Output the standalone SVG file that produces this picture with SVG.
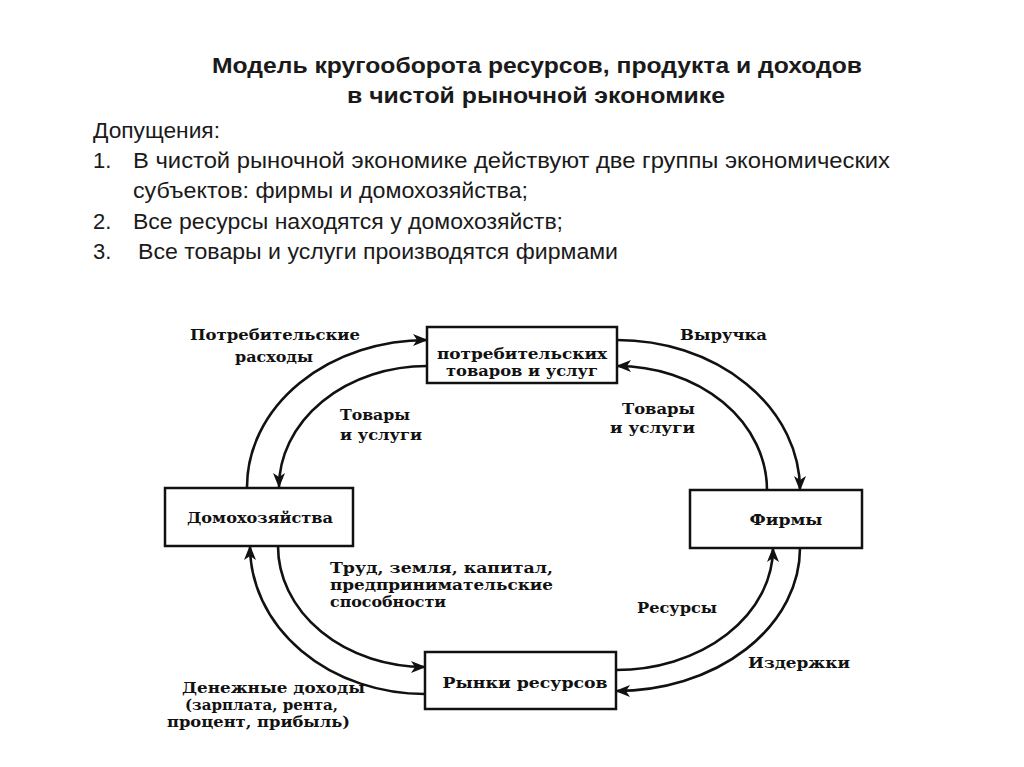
<svg xmlns="http://www.w3.org/2000/svg" width="1024" height="767" viewBox="0 0 1024 767">
<style>
.hd{font-family:"Liberation Sans Narrow","Liberation Sans",Arial,sans-serif;fill:#1a1a1a}
.tt{font-size:22px;font-weight:bold}
.tx{font-size:22px}
.lb{font-family:"DejaVu Serif","Liberation Serif",serif;font-weight:bold;font-size:15px;fill:#111}
.box{fill:#fff;stroke:#111;stroke-width:2.5}
.ar{fill:none;stroke:#111;stroke-width:2.6;marker-end:url(#ah)}
</style>
<defs>
<marker id="ah" markerUnits="userSpaceOnUse" markerWidth="16" markerHeight="12" refX="14" refY="6" orient="auto">
<path d="M0,0 L15,6 L0,12 L4,6 Z" fill="#111"/>
</marker>
</defs>
<rect width="1024" height="767" fill="#fff"/>
<g id="header">
<text class="hd tt" x="212" y="73" textLength="650" lengthAdjust="spacingAndGlyphs">Модель кругооборота ресурсов, продукта и доходов</text>
<text class="hd tt" x="347" y="103" textLength="378" lengthAdjust="spacingAndGlyphs">в чистой рыночной экономике</text>
<text class="hd tx" x="93" y="138" textLength="127" lengthAdjust="spacingAndGlyphs">Допущения:</text>
<text class="hd tx" x="93" y="168">1.</text>
<text class="hd tx" x="133" y="168" textLength="757" lengthAdjust="spacingAndGlyphs">В чистой рыночной экономике действуют две группы экономических</text>
<text class="hd tx" x="133" y="198" textLength="395" lengthAdjust="spacingAndGlyphs">субъектов: фирмы и домохозяйства;</text>
<text class="hd tx" x="93" y="229">2.</text>
<text class="hd tx" x="133" y="229" textLength="430" lengthAdjust="spacingAndGlyphs">Все ресурсы находятся у домохозяйств;</text>
<text class="hd tx" x="93" y="259">3.</text>
<text class="hd tx" x="138" y="259" textLength="480" lengthAdjust="spacingAndGlyphs">Все товары и услуги производятся фирмами</text>
</g>
<g id="connectors">
<path class="ar" d="M247 487 A180 147 0 0 1 427 340"/>
<path class="ar" d="M427 366 A148 121 0 0 0 279 487"/>
<path class="ar" d="M617 340 A183 150 0 0 1 800 490"/>
<path class="ar" d="M767 490 A150 124 0 0 0 617 366"/>
<path class="ar" d="M425 694 A175 148 0 0 1 250 546"/>
<path class="ar" d="M278 546 A147 121 0 0 0 425 667"/>
<path class="ar" d="M616 670 A157 122 0 0 0 773 548"/>
<path class="ar" d="M800 548 A184 143 0 0 1 616 691"/>
</g>
<g id="node-consumer-market">
<rect class="box" x="427" y="327" width="190" height="56"/>
<text class="lb" x="522" y="359" text-anchor="middle" textLength="170" lengthAdjust="spacingAndGlyphs">потребительских</text>
<text class="lb" x="522" y="376" text-anchor="middle" textLength="152" lengthAdjust="spacingAndGlyphs">товаров и услуг</text>
</g>
<g id="node-households">
<rect class="box" x="165" y="488" width="188" height="58"/>
<text class="lb" x="260" y="523" text-anchor="middle" textLength="146" lengthAdjust="spacingAndGlyphs">Домохозяйства</text>
</g>
<g id="node-firms">
<rect class="box" x="690" y="490" width="172" height="58"/>
<text class="lb" x="786" y="525" text-anchor="middle" textLength="73" lengthAdjust="spacingAndGlyphs">Фирмы</text>
</g>
<g id="node-resource-market">
<rect class="box" x="425" y="652" width="191" height="57"/>
<text class="lb" x="525" y="688" text-anchor="middle" textLength="165" lengthAdjust="spacingAndGlyphs">Рынки ресурсов</text>
</g>
<g id="labels">
<text class="lb" x="275" y="340" text-anchor="middle" textLength="170" lengthAdjust="spacingAndGlyphs">Потребительские</text>
<text class="lb" x="274" y="362" text-anchor="middle" textLength="78" lengthAdjust="spacingAndGlyphs">расходы</text>
<text class="lb" x="340" y="420" textLength="70" lengthAdjust="spacingAndGlyphs">Товары</text>
<text class="lb" x="340" y="440" textLength="82" lengthAdjust="spacingAndGlyphs">и услуги</text>
<text class="lb" x="680" y="340" textLength="87" lengthAdjust="spacingAndGlyphs">Выручка</text>
<text class="lb" x="622" y="414" textLength="73" lengthAdjust="spacingAndGlyphs">Товары</text>
<text class="lb" x="610" y="433" textLength="85" lengthAdjust="spacingAndGlyphs">и услуги</text>
<text class="lb" x="330" y="573" textLength="223" lengthAdjust="spacingAndGlyphs">Труд,  земля, капитал,</text>
<text class="lb" x="330" y="590" textLength="223" lengthAdjust="spacingAndGlyphs">предпринимательские</text>
<text class="lb" x="330" y="607" textLength="116" lengthAdjust="spacingAndGlyphs">способности</text>
<text class="lb" x="637" y="613" textLength="80" lengthAdjust="spacingAndGlyphs">Ресурсы</text>
<text class="lb" x="748" y="668" textLength="102" lengthAdjust="spacingAndGlyphs">Издержки</text>
<text class="lb" x="182" y="693" textLength="183" lengthAdjust="spacingAndGlyphs">Денежные доходы</text>
<text class="lb" x="185" y="710" textLength="153" lengthAdjust="spacingAndGlyphs">(зарплата, рента,</text>
<text class="lb" x="167" y="727" textLength="183" lengthAdjust="spacingAndGlyphs">процент, прибыль)</text>
</g>
</svg>
